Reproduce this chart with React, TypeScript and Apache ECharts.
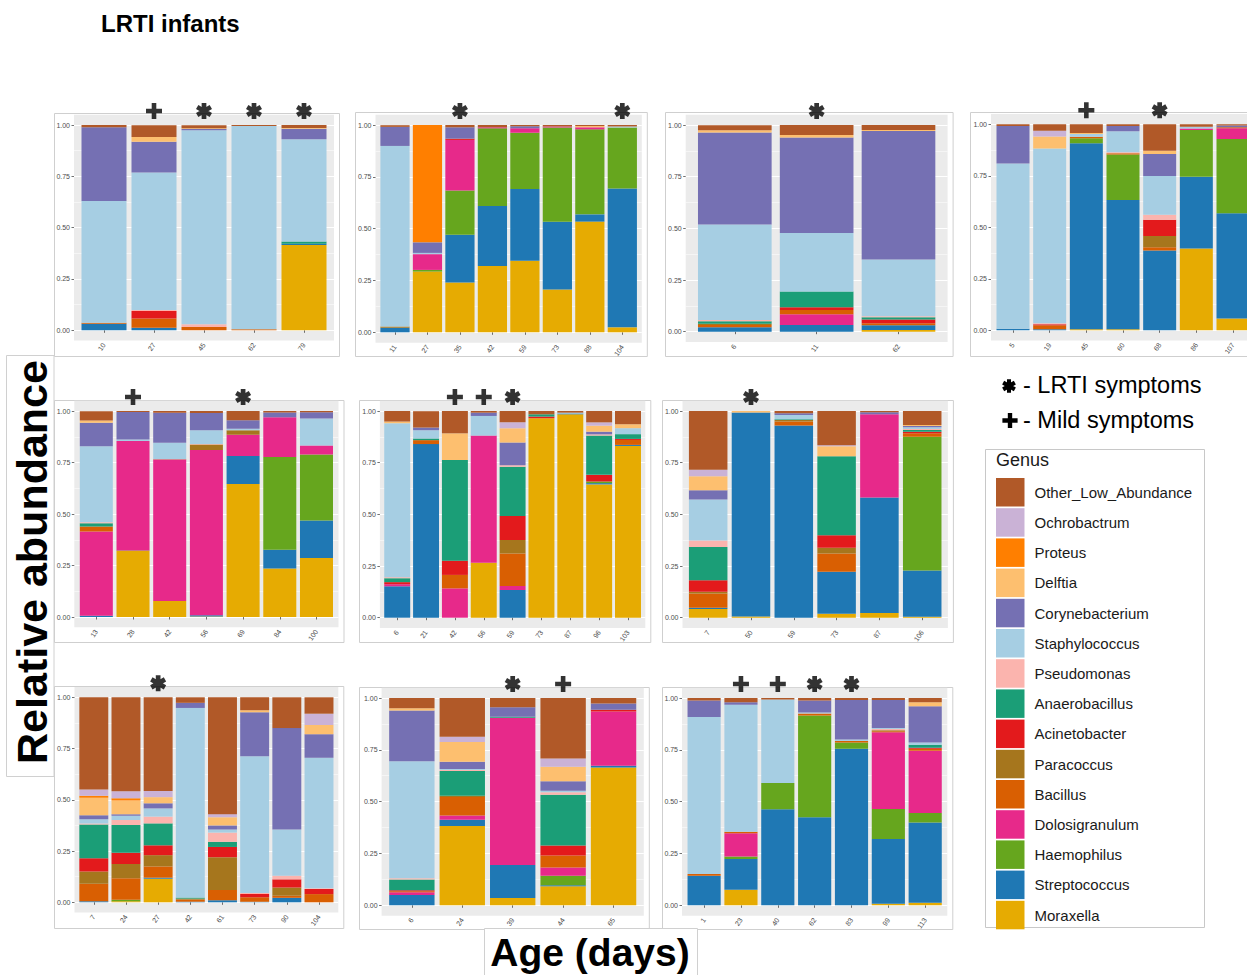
import React, { useEffect, useRef } from "react";
import * as echarts from "echarts";

// ---------- genera (stack order: bottom -> top) ----------
const GENERA = [
  "Moraxella", "Streptococcus", "Haemophilus", "Dolosigranulum", "Bacillus",
  "Paracoccus", "Acinetobacter", "Anaerobacillus", "Pseudomonas", "Staphylococcus",
  "Corynebacterium", "Delftia", "Proteus", "Ochrobactrum", "Other_Low_Abundance",
];
const GENUS_COLORS = [
  "#E6AB02", "#1F78B4", "#66A61E", "#E7298A", "#D95F02",
  "#A6761D", "#E31A1C", "#1B9E77", "#FBB4AE", "#A6CEE3",
  "#7570B3", "#FDBF6F", "#FF7F00", "#CAB2D6", "#B15928",
];
const LEGEND_ORDER = [...GENERA].reverse();

// ---------- panel 1 ----------
const P1_DAYS = ["10", "27", "45", "62", "79"];
const P1_MARKS = ["", "+", "*", "*", "*"];
const P1_ABUND: Record<string, number[]> = {
  Moraxella: [0, 0, 0, 0, 0.416],
  Streptococcus: [0.032, 0.013, 0, 0, 0.006],
  Bacillus: [0.005, 0.045, 0.016, 0.005, 0],
  Acinetobacter: [0, 0.036, 0, 0, 0],
  Anaerobacillus: [0, 0, 0, 0, 0.01],
  Pseudomonas: [0, 0.005, 0.013, 0, 0],
  Staphylococcus: [0.593, 0.67, 0.946, 0.99, 0.498],
  Corynebacterium: [0.359, 0.149, 0.006, 0, 0.052],
  Delftia: [0, 0.023, 0.003, 0, 0.003],
  Other_Low_Abundance: [0.011, 0.058, 0.015, 0.005, 0.015],
};

// ---------- panel 2 ----------
const P2_DAYS = ["11", "27", "35", "42", "59", "73", "88", "104"];
const P2_MARKS = ["", "", "*", "", "", "", "", "*"];
const P2_ABUND: Record<string, number[]> = {
  Moraxella: [0, 0.293, 0.24, 0.32, 0.345, 0.207, 0.534, 0.024],
  Streptococcus: [0.022, 0, 0.23, 0.289, 0.346, 0.326, 0.035, 0.67],
  Haemophilus: [0, 0.008, 0.214, 0.375, 0.272, 0.455, 0.41, 0.294],
  Dolosigranulum: [0, 0.076, 0.244, 0.005, 0.021, 0.005, 0.01, 0],
  Paracoccus: [0.006, 0, 0, 0, 0, 0, 0, 0],
  Acinetobacter: [0, 0, 0.006, 0, 0, 0, 0, 0],
  Staphylococcus: [0.871, 0.006, 0, 0, 0, 0, 0, 0.005],
  Corynebacterium: [0.092, 0.051, 0.055, 0, 0.01, 0, 0, 0],
  Delftia: [0, 0, 0, 0, 0, 0, 0.006, 0],
  Proteus: [0, 0.566, 0, 0, 0, 0, 0, 0],
  Other_Low_Abundance: [0.008, 0, 0.011, 0.011, 0.006, 0.007, 0.005, 0.007],
};

// ---------- panel 3 ----------
const P3_DAYS = ["6", "11", "62"];
const P3_MARKS = ["", "*", ""];
const P3_ABUND: Record<string, number[]> = {
  Moraxella: [0, 0, 0.008],
  Streptococcus: [0.021, 0.032, 0.023],
  Dolosigranulum: [0, 0.052, 0],
  Bacillus: [0.011, 0.021, 0.01],
  Paracoccus: [0.006, 0, 0],
  Acinetobacter: [0, 0.013, 0.018],
  Anaerobacillus: [0.013, 0.076, 0.011],
  Pseudomonas: [0.005, 0, 0.005],
  Staphylococcus: [0.463, 0.284, 0.274],
  Corynebacterium: [0.445, 0.461, 0.622],
  Delftia: [0.011, 0.013, 0.005],
  Other_Low_Abundance: [0.024, 0.048, 0.024],
};

// ---------- panel 4 ----------
const P4_DAYS = ["5", "19", "45", "60", "68", "86", "107"];
const P4_MARKS = ["", "", "+", "", "*", "", ""];
const P4_ABUND: Record<string, number[]> = {
  Moraxella: [0, 0, 0.005, 0.005, 0, 0.397, 0.057],
  Streptococcus: [0.008, 0.005, 0.903, 0.627, 0.387, 0.348, 0.511],
  Haemophilus: [0, 0, 0.024, 0.222, 0, 0.227, 0.361],
  Dolosigranulum: [0, 0, 0, 0, 0, 0.008, 0.052],
  Bacillus: [0, 0.019, 0.008, 0.005, 0.016, 0, 0.005],
  Paracoccus: [0, 0, 0, 0, 0.055, 0, 0],
  Acinetobacter: [0, 0.005, 0, 0, 0.079, 0, 0],
  Pseudomonas: [0, 0.005, 0, 0.005, 0.024, 0, 0],
  Staphylococcus: [0.802, 0.849, 0.013, 0.102, 0.188, 0.008, 0],
  Corynebacterium: [0.182, 0, 0, 0.026, 0.107, 0, 0.008],
  Delftia: [0, 0.058, 0.005, 0, 0.016, 0, 0],
  Ochrobactrum: [0, 0.028, 0, 0, 0, 0, 0],
  Other_Low_Abundance: [0.008, 0.031, 0.042, 0.008, 0.128, 0.012, 0.006],
};

// ---------- panel 5 ----------
const P5_DAYS = ["13", "28", "42", "56", "69", "84", "100"];
const P5_MARKS = ["", "+", "", "", "*", "", ""];
const P5_ABUND: Record<string, number[]> = {
  Moraxella: [0, 0.32, 0.078, 0.003, 0.646, 0.235, 0.286],
  Streptococcus: [0.006, 0, 0, 0.006, 0.135, 0.091, 0.183],
  Haemophilus: [0, 0.003, 0, 0, 0, 0.451, 0.32],
  Dolosigranulum: [0.409, 0.531, 0.685, 0.802, 0.104, 0.193, 0.044],
  Bacillus: [0.024, 0, 0, 0, 0, 0, 0],
  Paracoccus: [0, 0, 0, 0.026, 0.021, 0, 0],
  Acinetobacter: [0, 0, 0.003, 0, 0, 0, 0],
  Anaerobacillus: [0.016, 0, 0, 0, 0, 0, 0],
  Pseudomonas: [0.005, 0, 0, 0.003, 0, 0, 0],
  Staphylococcus: [0.369, 0.008, 0.08, 0.067, 0.008, 0, 0.13],
  Corynebacterium: [0.114, 0.133, 0.146, 0.083, 0.041, 0.023, 0.031],
  Delftia: [0.011, 0, 0, 0, 0, 0, 0],
  Other_Low_Abundance: [0.045, 0.005, 0.008, 0.01, 0.045, 0.007, 0.006],
};

// ---------- panel 6 ----------
const P6_DAYS = ["6", "21", "42", "56", "59", "73", "87", "96", "103"];
const P6_MARKS = ["", "", "+", "+", "*", "", "", "", ""];
const P6_ABUND: Record<string, number[]> = {
  Moraxella: [0, 0, 0, 0.266, 0, 0.965, 0.984, 0.645, 0.831],
  Streptococcus: [0.152, 0.84, 0, 0, 0.134, 0, 0.004, 0.006, 0.005],
  Haemophilus: [0, 0, 0, 0, 0, 0, 0, 0.008, 0],
  Dolosigranulum: [0.01, 0, 0.142, 0.615, 0.019, 0, 0, 0, 0],
  Bacillus: [0, 0.019, 0.065, 0, 0.158, 0, 0, 0, 0.024],
  Paracoccus: [0, 0, 0, 0, 0.065, 0, 0, 0, 0],
  Acinetobacter: [0.01, 0, 0.069, 0, 0.116, 0.008, 0, 0.032, 0.005],
  Anaerobacillus: [0.019, 0.008, 0.487, 0, 0.238, 0.011, 0, 0.19, 0.023],
  Pseudomonas: [0.005, 0, 0, 0, 0.008, 0, 0, 0.006, 0],
  Staphylococcus: [0.745, 0.04, 0, 0.095, 0, 0, 0.004, 0, 0.029],
  Corynebacterium: [0, 0.013, 0, 0.016, 0.11, 0, 0, 0.013, 0],
  Delftia: [0.008, 0, 0.129, 0, 0.068, 0, 0, 0.029, 0.019],
  Ochrobactrum: [0, 0, 0, 0, 0.029, 0, 0, 0.016, 0],
  Other_Low_Abundance: [0.051, 0.079, 0.108, 0.008, 0.055, 0.016, 0.008, 0.055, 0.064],
};

// ---------- panel 7 ----------
const P7_DAYS = ["7", "50", "59", "73", "87", "106"];
const P7_MARKS = ["", "*", "", "", "", ""];
const P7_ABUND: Record<string, number[]> = {
  Moraxella: [0.042, 0.006, 0, 0.019, 0.023, 0.005],
  Streptococcus: [0.006, 0.987, 0.93, 0.203, 0.558, 0.223],
  Haemophilus: [0, 0, 0, 0, 0, 0.648],
  Dolosigranulum: [0, 0, 0, 0, 0.403, 0],
  Bacillus: [0.069, 0, 0.019, 0.089, 0, 0.016],
  Paracoccus: [0.008, 0, 0.008, 0.027, 0, 0],
  Acinetobacter: [0.056, 0, 0, 0.061, 0, 0.008],
  Anaerobacillus: [0.161, 0, 0.003, 0.382, 0, 0.008],
  Pseudomonas: [0.032, 0, 0, 0, 0, 0.005],
  Staphylococcus: [0.198, 0, 0.021, 0, 0, 0.008],
  Corynebacterium: [0.044, 0, 0.008, 0, 0.01, 0.006],
  Delftia: [0.068, 0.007, 0, 0.048, 0, 0.005],
  Ochrobactrum: [0.032, 0, 0, 0.005, 0, 0],
  Other_Low_Abundance: [0.284, 0, 0.011, 0.166, 0.006, 0.068],
};

// ---------- panel 8 ----------
const P8_DAYS = ["7", "24", "27", "42", "61", "73", "90", "104"];
const P8_MARKS = ["", "", "*", "", "", "", "", ""];
const P8_ABUND: Record<string, number[]> = {
  Moraxella: [0, 0.005, 0.115, 0, 0, 0, 0, 0],
  Streptococcus: [0.005, 0, 0.005, 0.003, 0.01, 0.003, 0.022, 0],
  Haemophilus: [0, 0.007, 0, 0, 0, 0, 0, 0],
  Bacillus: [0.085, 0.105, 0.055, 0.01, 0.05, 0.022, 0.01, 0.04],
  Paracoccus: [0.06, 0.07, 0.055, 0.005, 0.16, 0, 0.04, 0],
  Acinetobacter: [0.065, 0.055, 0.048, 0, 0.05, 0.015, 0.04, 0.025],
  Anaerobacillus: [0.165, 0.135, 0.107, 0.005, 0.025, 0, 0, 0],
  Pseudomonas: [0.005, 0.025, 0.033, 0, 0.045, 0.005, 0.018, 0.003],
  Staphylococcus: [0.02, 0.02, 0.04, 0.925, 0.015, 0.667, 0.225, 0.637],
  Corynebacterium: [0.02, 0.008, 0.025, 0.025, 0.02, 0.215, 0.495, 0.115],
  Delftia: [0.085, 0.067, 0.03, 0, 0.04, 0.01, 0, 0.045],
  Proteus: [0.01, 0.01, 0, 0, 0, 0, 0, 0],
  Ochrobactrum: [0.03, 0.035, 0.03, 0, 0.015, 0, 0, 0.055],
  Other_Low_Abundance: [0.45, 0.458, 0.457, 0.027, 0.57, 0.063, 0.15, 0.08],
};

// ---------- panel 9 ----------
const P9_DAYS = ["6", "24", "39", "44", "65"];
const P9_MARKS = ["", "", "*", "+", ""];
const P9_ABUND: Record<string, number[]> = {
  Moraxella: [0, 0.383, 0.035, 0.092, 0.665],
  Streptococcus: [0.05, 0.03, 0.16, 0.005, 0.008],
  Haemophilus: [0, 0, 0, 0.045, 0],
  Dolosigranulum: [0.013, 0.02, 0.71, 0.04, 0.262],
  Bacillus: [0.005, 0.09, 0, 0.058, 0],
  Paracoccus: [0, 0.005, 0, 0, 0],
  Acinetobacter: [0.005, 0, 0, 0.048, 0.008],
  Anaerobacillus: [0.052, 0.12, 0.005, 0.245, 0],
  Pseudomonas: [0.005, 0.005, 0, 0.012, 0],
  Staphylococcus: [0.565, 0.005, 0, 0.008, 0],
  Corynebacterium: [0.245, 0.035, 0.045, 0.045, 0.03],
  Delftia: [0.01, 0.095, 0, 0.07, 0],
  Ochrobactrum: [0, 0.025, 0, 0.04, 0],
  Other_Low_Abundance: [0.05, 0.187, 0.045, 0.292, 0.027],
};

// ---------- panel 10 ----------
const P10_DAYS = ["1", "23", "40", "62", "83", "99", "113"];
const P10_MARKS = ["", "+", "+", "*", "*", "", ""];
const P10_ABUND: Record<string, number[]> = {
  Moraxella: [0, 0.075, 0, 0, 0, 0.008, 0.012],
  Streptococcus: [0.143, 0.148, 0.463, 0.425, 0.755, 0.312, 0.388],
  Haemophilus: [0, 0.013, 0.127, 0.49, 0.03, 0.145, 0.045],
  Dolosigranulum: [0, 0.112, 0, 0, 0, 0.37, 0.3],
  Bacillus: [0.008, 0.007, 0, 0.01, 0.008, 0.005, 0.01],
  Paracoccus: [0, 0, 0, 0, 0, 0.005, 0],
  Acinetobacter: [0, 0, 0, 0, 0, 0, 0.005],
  Anaerobacillus: [0, 0, 0, 0, 0, 0, 0.015],
  Pseudomonas: [0, 0, 0, 0, 0, 0.005, 0],
  Staphylococcus: [0.757, 0.612, 0.403, 0.005, 0.007, 0.005, 0.01],
  Corynebacterium: [0.08, 0.013, 0, 0.058, 0.19, 0.135, 0.175],
  Delftia: [0, 0, 0, 0, 0, 0, 0.02],
  Other_Low_Abundance: [0.012, 0.02, 0.007, 0.012, 0.01, 0.01, 0.02],
};

const Y_TICKS = ["0.00", "0.25", "0.50", "0.75", "1.00"];

const PANELS = [
  { days: P1_DAYS, abund: P1_ABUND, marks: P1_MARKS },
  { days: P2_DAYS, abund: P2_ABUND, marks: P2_MARKS },
  { days: P3_DAYS, abund: P3_ABUND, marks: P3_MARKS },
  { days: P4_DAYS, abund: P4_ABUND, marks: P4_MARKS },
  { days: P5_DAYS, abund: P5_ABUND, marks: P5_MARKS },
  { days: P6_DAYS, abund: P6_ABUND, marks: P6_MARKS },
  { days: P7_DAYS, abund: P7_ABUND, marks: P7_MARKS },
  { days: P8_DAYS, abund: P8_ABUND, marks: P8_MARKS },
  { days: P9_DAYS, abund: P9_ABUND, marks: P9_MARKS },
  { days: P10_DAYS, abund: P10_ABUND, marks: P10_MARKS },
];

// ---------- layout (pixels) ----------
// gx0/gx1: grey panel left/right, y1: y of 1.00, y0: y of 0.00, box: outer frame
const LAYOUT = [
  { gx0: 74, gx1: 334, y1: 125, y0: 330.3, bx: 54, by: 113, bh: 243 },
  { gx0: 375.5, gx1: 641.8, y1: 125, y0: 332.3, bx: 355, by: 112, bh: 244 },
  { gx0: 685.7, gx1: 947.6, y1: 125, y0: 331.7, bx: 665, by: 112, bh: 244 },
  { gx0: 991, gx1: 1255, y1: 124.3, y0: 330.3, bx: 970, by: 112, bh: 244 },
  { gx0: 74.3, gx1: 338.5, y1: 411, y0: 617, bx: 54, by: 400, bh: 242 },
  { gx0: 379.9, gx1: 645.3, y1: 411, y0: 617.7, bx: 359, by: 400, bh: 242 },
  { gx0: 682.5, gx1: 947.9, y1: 411, y0: 617.7, bx: 662, by: 400, bh: 242 },
  { gx0: 74.5, gx1: 338.3, y1: 697.3, y0: 902.3, bx: 54, by: 686, bh: 242 },
  { gx0: 381.6, gx1: 643.8, y1: 698, y0: 905.3, bx: 359, by: 687, bh: 242 },
  { gx0: 682, gx1: 947.3, y1: 698, y0: 905.3, bx: 662, by: 687, bh: 242 },
];

const ASTERISK_D =
  "M-2.25,-7.5L2.25,-7.5L2.25,7.5L-2.25,7.5Z M5.37,-5.7L7.62,-1.8L-5.37,5.7L-7.62,1.8Z M-7.62,-1.8L-5.37,-5.7L7.62,1.8L5.37,5.7Z";
const PLUS_D =
  "M-2.3,-8L2.3,-8L2.3,-2.3L8,-2.3L8,2.3L2.3,2.3L2.3,8L-2.3,8L-2.3,2.3L-8,2.3L-8,-2.3L-2.3,-2.3Z";

echarts.graphic.registerShape("asteriskMark", echarts.graphic.extendPath(ASTERISK_D, {}) as any);
echarts.graphic.registerShape("plusMark", echarts.graphic.extendPath(PLUS_D, {}) as any);

const FONT = "'Liberation Sans', Arial, sans-serif";

function buildOption() {
  const grid: any[] = [];
  const xAxis: any[] = [];
  const yAxis: any[] = [];
  const series: any[] = [];
  const graphic: any[] = [];

  PANELS.forEach((p, i) => {
    const L = LAYOUT[i];
    const n = p.days.length;
    const pitch = (L.gx1 - L.gx0) / (n + 0.2);
    const h = L.y0 - L.y1;
    const pad = 0.05 * h;

    graphic.push({
      type: "rect",
      z: -20,
      silent: true,
      shape: { x: L.bx + 0.5, y: L.by + 0.5, width: L.gx1 + 5 - L.bx, height: L.bh },
      style: { fill: "#ffffff", stroke: "#cfcfcf", lineWidth: 1 },
    });
    graphic.push({
      type: "rect",
      z: -10,
      silent: true,
      shape: { x: L.gx0, y: L.y1 - pad, width: L.gx1 - L.gx0, height: h + 2 * pad },
      style: { fill: "#EBEBEB" },
    });

    // background grid (gridlines + y labels)
    const gb = grid.length;
    grid.push({ left: L.gx0, top: L.y1, width: L.gx1 - L.gx0, height: h, containLabel: false, outerBoundsMode: "none" });
    xAxis.push({ gridIndex: gb, type: "value", min: 0, max: 1, show: false });
    yAxis.push({
      gridIndex: gb,
      type: "value",
      min: 0,
      max: 1,
      interval: 0.25,
      axisLine: { show: false },
      axisTick: { show: true, length: 2.5, lineStyle: { color: "#333333", width: 0.7 } },
      axisLabel: {
        fontSize: 7,
        color: "#4D4D4D",
        margin: 4,
        fontFamily: FONT,
        formatter: (v: number) => Y_TICKS[Math.round(v * 4)],
      },
      splitLine: { show: true, lineStyle: { color: "#ffffff", width: 1 } },
      minorTick: { show: false, splitNumber: 2 },
      minorSplitLine: { show: true, lineStyle: { color: "#ffffff", width: 0.5 } },
    });

    // data grid (bars)
    const gd = grid.length;
    grid.push({ left: L.gx0 + 0.1 * pitch, top: L.y1, width: n * pitch, height: h, containLabel: false, outerBoundsMode: "none" });
    xAxis.push({
      gridIndex: gd,
      type: "category",
      data: p.days,
      offset: pad,
      axisLine: { show: false },
      axisTick: { show: true, alignWithLabel: true, length: 2.5, lineStyle: { color: "#333333", width: 0.7 } },
      axisLabel: { fontSize: 7, color: "#4D4D4D", rotate: 55, margin: 3, interval: 0, fontFamily: FONT },
      splitLine: { show: false },
    });
    yAxis.push({ gridIndex: gd, type: "value", min: 0, max: 1, show: false });

    GENERA.forEach((g, k) => {
      const vals = p.abund[g] || new Array(n).fill(0);
      series.push({
        type: "bar",
        name: g,
        xAxisIndex: gd,
        yAxisIndex: gd,
        stack: "panel" + i,
        barWidth: "90%",
        data: vals,
        silent: true,
        itemStyle: { color: GENUS_COLORS[k] },
      });
    });

    const markData: any[] = [];
    p.marks.forEach((m, j) => {
      if (!m) return;
      markData.push({
        value: [j, 1],
        symbol: "path://" + (m === "*" ? ASTERISK_D : PLUS_D),
        symbolSize: m === "*" ? [16, 16] : [16, 16],
      });
    });
    if (markData.length) {
      series.push({
        type: "scatter",
        name: "marks" + i,
        xAxisIndex: gd,
        yAxisIndex: gd,
        data: markData,
        symbolOffset: [0, -14],
        itemStyle: { color: "#000000" },
        clip: false,
        silent: true,
        z: 5,
      });
    }
  });

  // titles and annotations
  graphic.push(
    {
      type: "text",
      z: 50,
      x: 101,
      y: 23,
      style: { text: "LRTI infants", font: "bold 24px " + FONT, fill: "#000", textVerticalAlign: "middle" },
    },
    {
      type: "rect",
      z: 40,
      silent: true,
      shape: { x: 6.5, y: 355.5, width: 47.5, height: 421 },
      style: { fill: "#ffffff", stroke: "#d0d0d0", lineWidth: 1 },
    },
    {
      type: "text",
      z: 50,
      x: 32,
      y: 562,
      rotation: Math.PI / 2,
      style: {
        text: "Relative abundance",
        font: "bold 43px " + FONT,
        fill: "#000",
        textAlign: "center",
        textVerticalAlign: "middle",
      },
    },
    {
      type: "rect",
      z: 40,
      silent: true,
      shape: { x: 484.5, y: 928.5, width: 213, height: 60 },
      style: { fill: "#ffffff", stroke: "#d0d0d0", lineWidth: 1 },
    },
    {
      type: "text",
      z: 50,
      x: 590,
      y: 952,
      style: {
        text: "Age (days)",
        font: "bold 39px " + FONT,
        fill: "#000",
        textAlign: "center",
        textVerticalAlign: "middle",
      },
    },
    { type: "asteriskMark", z: 50, x: 1009, y: 386, scaleX: 0.9, scaleY: 0.9, style: { fill: "#000" } },
    {
      type: "text",
      z: 50,
      x: 1023,
      y: 385,
      style: { text: "- LRTI symptoms", font: "23.5px " + FONT, fill: "#000", textVerticalAlign: "middle" },
    },
    { type: "plusMark", z: 50, x: 1010, y: 420.5, scaleX: 0.95, scaleY: 0.95, style: { fill: "#000" } },
    {
      type: "text",
      z: 50,
      x: 1023,
      y: 420,
      style: { text: "- Mild symptoms", font: "23.5px " + FONT, fill: "#000", textVerticalAlign: "middle" },
    },
    {
      type: "rect",
      z: -30,
      silent: true,
      shape: { x: 985.5, y: 449.5, width: 219, height: 478 },
      style: { fill: "#ffffff", stroke: "#c8c8c8", lineWidth: 1 },
    },
    {
      type: "text",
      z: 50,
      x: 996,
      y: 460,
      style: { text: "Genus", font: "18px " + FONT, fill: "#1a1a1a", textVerticalAlign: "middle" },
    }
  );

  return {
    animation: false,
    backgroundColor: "#ffffff",
    textStyle: { fontFamily: FONT },
    legend: {
      show: true,
      data: LEGEND_ORDER,
      orient: "vertical",
      left: 996,
      top: 478,
      padding: 0,
      itemWidth: 28.5,
      itemHeight: 28.5,
      itemGap: 1.7,
      icon: "rect",
      selectedMode: false,
      textStyle: { fontSize: 15, color: "#1a1a1a", fontFamily: FONT, padding: [0, 0, 0, 5] },
    },
    grid,
    xAxis,
    yAxis,
    series,
    graphic,
  };
}

export default function App() {
  const ref = useRef<HTMLDivElement>(null);
  useEffect(() => {
    if (!ref.current) return;
    const chart = echarts.init(ref.current, undefined, { renderer: "svg" });
    chart.setOption(buildOption() as any);
    return () => chart.dispose();
  }, []);
  return (
    <div
      ref={ref}
      style={{ position: "fixed", left: 0, top: 0, width: 1247, height: 975, background: "#fff" }}
    />
  );
}
